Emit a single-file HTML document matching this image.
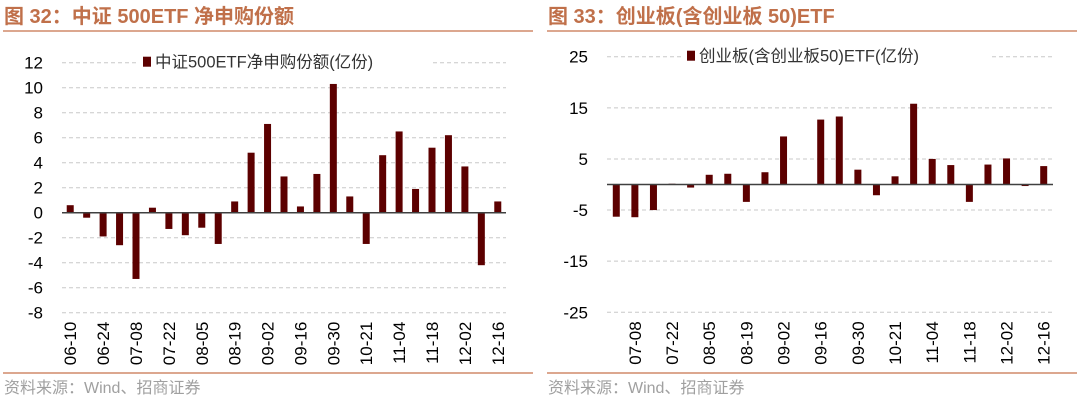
<!DOCTYPE html>
<html><head><meta charset="utf-8"><style>
html,body{margin:0;padding:0;background:#fff;width:1080px;height:401px;overflow:hidden}
svg{display:block;font-family:"Liberation Sans","Noto Sans CJK SC",sans-serif}
</style></head><body>
<svg id="s" width="1080" height="401">
<text x="4" y="23" font-size="20" font-weight="bold" fill="#c0704a">图 32：中证 500ETF 净申购份额</text>
<text x="548" y="23" font-size="20" font-weight="bold" fill="#c0704a">图 33：创业板(含创业板 50)ETF</text>
<line x1="3" y1="31" x2="533" y2="31" stroke="#d08a6a" stroke-width="1.5"/>
<line x1="547" y1="31" x2="1077" y2="31" stroke="#d08a6a" stroke-width="1.5"/>
<line x1="3" y1="373" x2="533" y2="373" stroke="#d08a6a" stroke-width="1.5"/>
<line x1="547" y1="373" x2="1077" y2="373" stroke="#d08a6a" stroke-width="1.5"/>
<text x="4" y="393" font-size="16" fill="#a0a0a0">资料来源：Wind、招商证券</text>
<text x="548" y="393" font-size="16" fill="#a0a0a0">资料来源：Wind、招商证券</text>
<g id="L"></g><g id="R"></g>
</svg>
<script>
const leftCategories=["06-10","06-17","06-24","07-01","07-08","07-15","07-22","07-29","08-05","08-12","08-19","08-26","09-02","09-09","09-16","09-23","09-30","10-14","10-21","10-28","11-04","11-11","11-18","11-25","12-02","12-09","12-16"];
const leftValues=[0.6,-0.4,-1.9,-2.6,-5.3,0.4,-1.3,-1.8,-1.2,-2.5,0.9,4.8,7.1,2.9,0.5,3.1,10.3,1.3,-2.5,4.6,6.5,1.9,5.2,6.2,3.7,-4.2,0.9];
const leftTicks=[12,10,8,6,4,2,0,-2,-4,-6,-8];
const rightCategories=["07-01","07-08","07-15","07-22","07-29","08-05","08-12","08-19","08-26","09-02","09-09","09-16","09-23","09-30","10-14","10-21","10-28","11-04","11-11","11-18","11-25","12-02","12-09","12-16"];
const rightValues=[-6.3,-6.4,-5.0,0.15,-0.6,1.9,2.1,-3.4,2.4,9.4,0,12.7,13.3,2.9,-2.1,1.6,15.8,5.0,3.8,-3.4,3.9,5.1,-0.3,3.6];
const rightTicks=[25,15,5,-5,-15,-25];
const NS="http://www.w3.org/2000/svg";
function mk(p,t,a){const e=document.createElementNS(NS,t);for(const k in a)e.setAttribute(k,a[k]);p.appendChild(e);return e;}
function chart(g,cfg){
  const {cats,vals,ticks,x0,x1,yTop,yBot,min,max,labelStart,tickX,legend,legX}=cfg;
  const y=v=>yTop+(max-v)/(max-min)*(yBot-yTop);
  const slot=(x1-x0)/cats.length;
  const xc=i=>x0+slot*(i+0.5);
  ticks.forEach(t=>{
    if(t!==0){const l=mk(g,'line',{x1:x0,x2:x1,y1:y(t),y2:y(t),stroke:'#c8c8c8','stroke-dasharray':'4,3','stroke-width':1});
    
    }
    const tx=mk(g,'text',{x:tickX,y:y(t)+6,'font-size':17,'text-anchor':'end',fill:'#000'});tx.textContent=t;
    
    
  });
  vals.forEach((v,i)=>{
    const r=mk(g,'rect',{x:xc(i)-3.5,width:7,y:Math.min(y(v),y(0)),height:Math.abs(y(v)-y(0)),fill:'#5c0000'});
    
    
  });
  const z=mk(g,'line',{x1:x0,x2:x1,y1:y(0),y2:y(0),stroke:'#404040','stroke-width':1.5});
  
  
  for(let i=labelStart;i<cats.length;i+=2){
    const X=xc(i)+6,Y=yBot+9;
    const t=mk(g,'text',{x:X,y:Y,'font-size':17,'text-anchor':'end',transform:`rotate(-90 ${X} ${Y})`,fill:'#000'});
    t.textContent=cats[i];
    
    
  }
  const bg=mk(g,'rect',{x:legX-4,y:yTop-12,width:legend.length*16+20,height:22,fill:'#fff'});
  
  
  const sq=mk(g,'rect',{x:legX,y:yTop-6,width:8,height:10,fill:'#5c0000'});
  
  
  const lt=mk(g,'text',{x:legX+12,y:yTop+5,'font-size':16.5,fill:'#333'});lt.textContent=legend;
  
  
}
chart(document.getElementById('L'),{cats:leftCategories,vals:leftValues,ticks:leftTicks,x0:62,x1:506,yTop:62.7,yBot:312.7,min:-8,max:12,labelStart:0,tickX:43,legend:"中证500ETF净申购份额(亿份)",legX:143});
chart(document.getElementById('R'),{cats:rightCategories,vals:rightValues,ticks:rightTicks,x0:607,x1:1053,yTop:56.7,yBot:312.3,min:-25,max:25,labelStart:1,tickX:588,legend:"创业板(含创业板50)ETF(亿份)",legX:687});
</script>
</body></html>
